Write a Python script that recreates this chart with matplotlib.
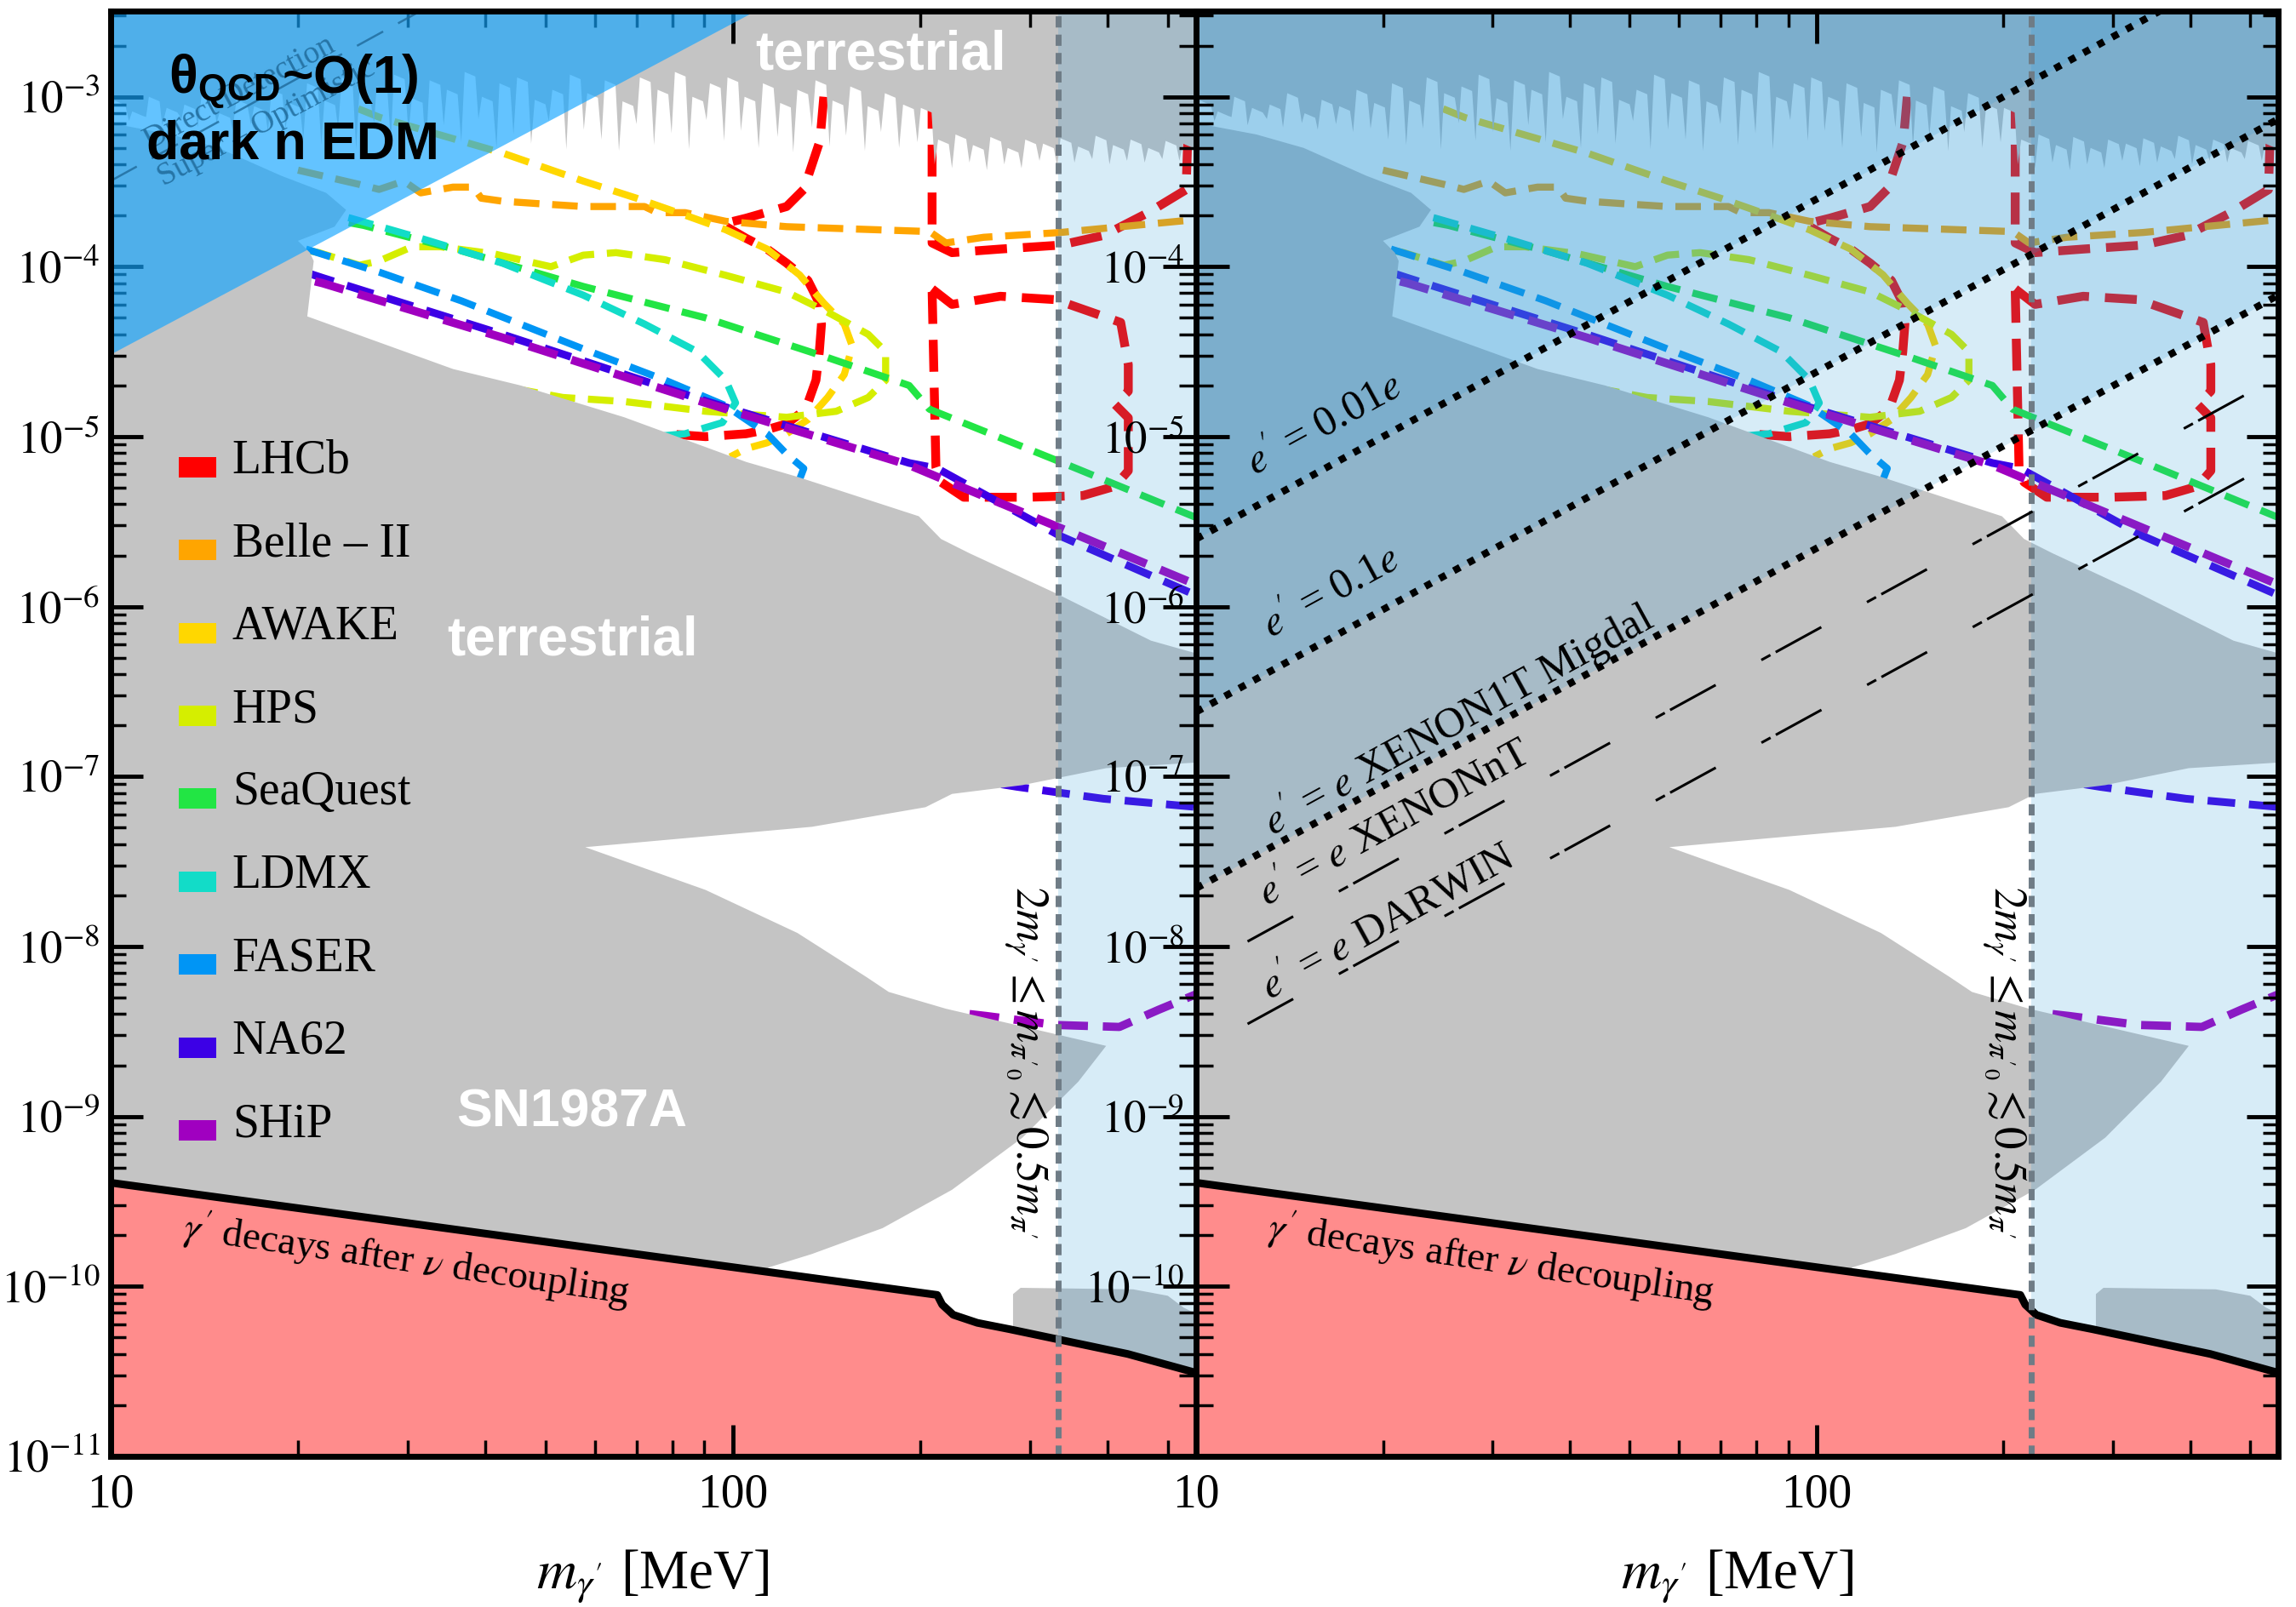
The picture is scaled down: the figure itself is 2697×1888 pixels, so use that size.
import numpy as np
import matplotlib
matplotlib.use("Agg")
import matplotlib.pyplot as plt
from matplotlib.patches import Rectangle
from matplotlib.ticker import FixedLocator, NullFormatter, FuncFormatter

plt.rcParams['font.family'] = 'serif'
plt.rcParams['font.serif'] = ['Liberation Serif', 'DejaVu Serif']
plt.rcParams['mathtext.fontset'] = 'stix'
plt.rcParams['mathtext.bf'] = 'Liberation Sans:bold'
plt.rcParams['mathtext.rm'] = 'Liberation Sans'
plt.rcParams['mathtext.it'] = 'Liberation Sans:italic'

M_MIN, M_MAX = 10, 555
E_MIN, E_MAX = 1e-11, 3.2e-3

# ---------------- data (m in MeV, eps) ----------------
# noisy lower edge of the upper "terrestrial" exclusion:
# narrow gray drips (tips) between wider open gaps (tops)
tip_m = [10, 10.7, 11.4, 12.1, 13.0, 13.8, 14.8, 15.7, 16.8, 17.9, 19.1, 20.4, 21.8, 23.2, 24.8,
         26.5, 28.2, 30.1, 32.1, 34.3, 36.6, 39.0, 41.7, 44.4, 47.4, 50.6, 54.0, 57.6, 61.5,
         65.6, 70.0, 74.7, 79.7, 85.0, 90.7, 96.8, 103, 110, 118, 125, 134, 143, 152, 163, 173,
         185, 198, 211, 225, 240, 256, 273, 291, 311, 332, 354, 378, 403, 430, 459, 490, 522, 557]
tip_e = [8.0e-4, 7.2e-4, 7.6e-4, 6.8e-4, 7.4e-4, 6.6e-4, 7.0e-4, 6.4e-4, 6.9e-4, 6.2e-4, 6.5e-4,
         5.6e-4, 5.2e-4, 6.5e-4, 4.9e-4, 7.0e-4, 5.5e-4, 6.2e-4, 4.8e-4, 6.8e-4, 5.4e-4, 7.4e-4,
         5.0e-4, 6.0e-4, 5.3e-4, 7.2e-4, 4.9e-4, 6.4e-4, 5.6e-4, 4.8e-4, 6.9e-4, 5.2e-4, 6.1e-4,
         4.9e-4, 7.3e-4, 5.5e-4, 6.3e-4, 5.0e-4, 5.8e-4, 4.7e-4, 6.6e-4, 5.1e-4, 5.9e-4, 4.8e-4,
         6.2e-4, 5.0e-4, 5.4e-4, 4.0e-4, 3.8e-4, 4.1e-4, 3.7e-4, 4.0e-4, 3.8e-4, 4.2e-4, 3.9e-4,
         4.1e-4, 4.3e-4, 4.0e-4, 4.2e-4, 4.1e-4, 4.3e-4, 4.2e-4, 4.4e-4]
gap_m = [10.35, 11.05, 11.75, 12.55, 13.4, 14.3, 15.25, 16.25, 17.35, 18.5, 19.75, 21.1, 22.5,
         24.0, 25.6, 27.3, 29.1, 31.1, 33.2, 35.4, 37.8, 40.3, 43.0, 45.9, 49.0, 52.3, 55.8, 59.5,
         63.5, 67.8, 72.3, 77.2, 82.3, 87.8, 93.7, 100, 106.5, 114, 121.5, 129.5, 138.5, 147.5,
         157.5, 168, 179, 191.5, 204.5, 218, 232.5, 248, 264.5, 282, 301, 321.5, 343, 366, 390.5,
         416.5, 444.5, 474.5, 506, 539.5]
gap_e = [9.5e-4, 8.2e-4, 1.0e-3, 8.6e-4, 9.0e-4, 1.05e-3, 8.0e-4, 9.6e-4, 8.8e-4, 1.1e-3, 9.2e-4,
         1.2e-3, 9.5e-4, 1.3e-3, 1.05e-3, 1.15e-3, 1.35e-3, 9.8e-4, 1.25e-3, 1.1e-3, 1.4e-3, 1.0e-3,
         1.2e-3, 1.3e-3, 9.6e-4, 1.1e-3, 1.35e-3, 1.05e-3, 1.25e-3, 9.4e-4, 1.3e-3, 1.1e-3, 1.4e-3,
         1.0e-3, 1.2e-3, 1.3e-3, 1.0e-3, 1.2e-3, 9.2e-4, 1.1e-3, 1.25e-3, 9.5e-4, 1.15e-3, 8.8e-4,
         1.05e-3, 9.0e-4, 8.6e-4, 5.6e-4, 6.0e-4, 5.2e-4, 5.8e-4, 5.0e-4, 5.6e-4, 5.3e-4, 5.7e-4,
         5.1e-4, 5.9e-4, 5.2e-4, 5.6e-4, 5.0e-4, 5.5e-4, 5.3e-4]

# lower "terrestrial" + SN1987A exclusion (outline, white wedge cut in)
low_m = [9, 10, 12.5, 14.9, 18.8, 22.2, 23.9, 22.9, 20.0, 20.9, 21.2, 20.7, 35.5, 45.6, 66.9, 105,
         127, 199, 216, 240, 330, 470, 600, 600, 398, 292, 225, 204, 134, 57.9, 90.4, 127, 164,
         178, 220, 398, 359, 292, 225, 174, 134, 114, 114, 9]
low_e = [7.0e-4, 7.0e-4, 6.0e-4, 5.0e-4, 3.43e-4, 2.72e-4, 2.16e-4, 1.72e-4, 1.42e-4, 1.21e-4,
         1.08e-4, 5.1e-5, 2.5e-5, 2.0e-5, 1.3e-5, 7.1e-6, 5.8e-6, 3.4e-6, 2.5e-6, 2.06e-6, 1.2e-6,
         6.3e-7, 4.9e-7, 1.23e-7, 1.12e-7, 8.9e-8, 7.9e-8, 6.6e-8, 5.06e-8, 3.84e-8, 2.15e-8,
         1.2e-8, 6.6e-9, 5.4e-9, 4.3e-9, 2.6e-9, 1.6e-9, 7.5e-10, 3.7e-10, 2.2e-10, 1.55e-10,
         1.29e-10, 1e-12, 1e-12]

# small exclusion box at the bottom right
box_m = [282, 282, 290, 440, 500, 530, 600, 600]
box_e = [1e-12, 9.0e-11, 9.8e-11, 9.6e-11, 8.8e-11, 7.5e-11, 6.0e-11, 1e-12]

# gamma' decays after nu decoupling
bbn_m = [10, 213, 217, 226, 247, 278, 431, 555]
bbn_e = [4.07e-10, 8.9e-11, 7.8e-11, 6.8e-11, 6.1e-11, 5.6e-11, 4.0e-11, 3.1e-11]

# theta_QCD ~ O(1) dark n EDM triangle
tri_m = [10, 109, 10]
tri_e = [3.04e-5, 3.2e-3, 3.2e-3]
dd_m = [10, 31]
dd_e = [3.2e-4, 3.1e-3]

# projected sensitivities
lhcb1_m = [140, 138, 130, 122, 105, 96, 105, 113.5, 122, 132, 137.7, 138.8, 137.7, 136, 132, 128,
           122, 113.5, 105, 90.4, 77.8]
lhcb1_e = [1.0e-3, 5.5e-4, 2.85e-4, 2.26e-4, 1.93e-4, 1.78e-4, 1.47e-4, 1.27e-4, 1.05e-4, 8.3e-5,
           6.1e-5, 4.6e-5, 3.16e-5, 2.15e-5, 1.58e-5, 1.36e-5, 1.19e-5, 1.1e-5, 1.04e-5, 1.0e-5, 1.04e-5]
lhcb2_m = [209, 209, 225, 269, 336, 395, 465, 535, 540]
lhcb2_e = [1.0e-3, 1.38e-4, 1.21e-4, 1.27e-4, 1.34e-4, 1.53e-4, 2.08e-4, 2.84e-4, 8.0e-4]
lhcb3_m = [209, 225, 269, 330, 420, 432, 432, 411, 432, 432, 411, 365, 299, 235, 216, 212, 209]
lhcb3_e = [7.4e-5, 6.0e-5, 6.7e-5, 6.4e-5, 4.7e-5, 2.65e-5, 1.85e-5, 1.55e-5, 1.29e-5, 6.3e-6,
           5.1e-6, 4.5e-6, 4.4e-6, 4.4e-6, 5.4e-6, 6.6e-6, 7.4e-5]
belle_m = [20, 25.1, 27, 29.6, 31.5, 35.5, 38.3, 39.4, 42.6, 49.5, 57.5, 72.1, 75.6, 83.8, 97.4, 122,
           207, 220, 253, 336, 560]
belle_e = [3.7e-4, 3.05e-4, 2.85e-4, 3.19e-4, 2.72e-4, 2.94e-4, 2.94e-4, 2.53e-4, 2.43e-4, 2.34e-4,
           2.26e-4, 2.26e-4, 2.08e-4, 2.08e-4, 1.85e-4, 1.72e-4, 1.61e-4, 1.38e-4, 1.49e-4, 1.59e-4,
           1.9e-4]
awake_m = [25, 27.1, 42.6, 57.5, 70, 83.8, 97.4, 113.5, 128, 140, 151, 155.6, 151, 142, 132, 122,
           113.5, 105, 99]
awake_e = [8.5e-4, 7.55e-4, 4.67e-4, 3.19e-4, 2.53e-4, 2.01e-4, 1.65e-4, 1.27e-4, 8.95e-5, 6.1e-5,
           4.6e-5, 3.4e-5, 2.32e-5, 1.7e-5, 1.26e-5, 1.04e-5, 9.2e-6, 8.5e-6, 7.6e-6]
hps_m = [20.9, 21.6, 25.1, 27.0, 30.5, 33.9, 41.3, 51, 57.5, 64.9, 77.8, 97.4, 122, 142, 165, 176,
         176, 165, 146.6, 122, 90.4, 66.8, 53.3, 45.9, 40]
hps_e = [1.24e-4, 1.21e-4, 1.02e-4, 1.08e-4, 1.31e-4, 1.31e-4, 1.19e-4, 1.0e-4, 1.17e-4, 1.21e-4,
         1.1e-4, 8.9e-5, 7.1e-5, 5.4e-5, 4.0e-5, 3.16e-5, 2.15e-5, 1.7e-5, 1.41e-5, 1.3e-5, 1.41e-5,
         1.61e-5, 1.7e-5, 1.88e-5, 2.05e-5]
seaquest_m = [21, 25.5, 36.6, 57.5, 90.4, 142, 192, 207, 336, 560]
seaquest_e = [2.0e-4, 1.75e-4, 1.24e-4, 7.65e-5, 5.0e-5, 2.92e-5, 2.0e-5, 1.45e-5, 7.1e-6, 3.3e-6]
ldmx_m = [21, 24.3, 31.5, 42.6, 57.5, 72.1, 87.7, 97.4, 101, 96.2, 83.8, 74.5]
ldmx_e = [2.2e-4, 1.93e-4, 1.47e-4, 1.05e-4, 6.8e-5, 4.6e-5, 3.16e-5, 2.15e-5, 1.58e-5, 1.21e-5,
          1.04e-5, 1.0e-5]
faser_m = [20.6, 27.0, 36.6, 57.5, 77.8, 97.4, 113.5, 122, 130, 128]
faser_e = [1.27e-4, 9.3e-5, 6.3e-5, 3.28e-5, 2.15e-5, 1.52e-5, 1.04e-5, 7.9e-6, 6.5e-6, 5.6e-6]
na62_m = [20.7, 21.9, 42.6, 90.4, 192, 213, 336, 560]
na62_e = [9.2e-5, 8.6e-5, 4.0e-5, 1.62e-5, 7.0e-6, 6.5e-6, 2.6e-6, 1.15e-6]
na62b_m = [270, 286, 394, 560]
na62b_e = [9.0e-8, 8.7e-8, 7.4e-8, 6.6e-8]
ship_m = [21.3, 21.9, 42.6, 90.4, 192, 213, 336, 560]
ship_e = [8.2e-5, 8.0e-5, 3.83e-5, 1.58e-5, 6.8e-6, 5.8e-6, 2.9e-6, 1.33e-6]
shipb_m = [240, 255, 331, 418, 484, 560]
shipb_e = [4.0e-9, 3.9e-9, 3.45e-9, 3.36e-9, 4.25e-9, 5.3e-9]

legend_names = ['LHCb', 'Belle – II', 'AWAKE', 'HPS', 'SeaQuest', 'LDMX', 'FASER', 'NA62', 'SHiP']
legend_colors = ['#ff0000', '#ffa500', '#ffd700', '#d5ee00', '#22e544', '#12dcc8', '#0095f5',
                 '#3c00e6', '#a000c0']

# direct detection lines (two points each, eps ~ m^2)
dl001_m, dl001_e = [10, 555], [2.5e-6, 7.7e-3]
dl01_m, dl01_e = [10, 555], [2.4e-7, 7.4e-4]
xe1t_m, xe1t_e = [10, 555], [2.2e-8, 6.8e-5]
xent_m, xent_e = [12.1, 555], [1.07e-8, 2.25e-5]
darwin_m, darwin_e = [12.1, 555], [3.5e-9, 7.3e-6]

band_left = 333
band_right = 222

GRAY = '#c4c4c4'
LAYER = '#2696d8'
VGRAY = '#6f7c86'

curves = [
    (lhcb1_m, lhcb1_e, legend_colors[0], 7.5),
    (lhcb2_m, lhcb2_e, legend_colors[0], 7.5),
    (lhcb3_m, lhcb3_e, legend_colors[0], 7.5),
    (belle_m, belle_e, legend_colors[1], 6),
    (awake_m, awake_e, legend_colors[2], 6),
    (hps_m, hps_e, legend_colors[3], 6),
    (seaquest_m, seaquest_e, legend_colors[4], 6),
    (ldmx_m, ldmx_e, legend_colors[5], 6),
    (faser_m, faser_e, legend_colors[6], 6),
    (na62_m, na62_e, legend_colors[7], 6.5),
    (na62b_m, na62b_e, legend_colors[7], 6.5),
    (ship_m, ship_e, legend_colors[8], 7),
    (shipb_m, shipb_e, legend_colors[8], 7),
]

# outline of the upper exclusion: sharp gray tips, wide open gaps
edge_m, edge_e = [9], [tip_e[0]]
for i in range(len(tip_m)):
    edge_m.append(tip_m[i])
    edge_e.append(tip_e[i])
    if i < len(gap_m):
        edge_m += [gap_m[i] / 1.02, gap_m[i] * 1.02]
        edge_e += [gap_e[i], gap_e[i] * 0.94]
edge_m += [600, 600, 9]
edge_e += [tip_e[-1], 1.0, 1.0]


def power_line(pm, pe, m):
    k = np.log10(pe[1] / pe[0]) / np.log10(pm[1] / pm[0])
    return pe[0] * (np.asarray(m, dtype=float) / pm[0]) ** k


def style_axes(ax):
    ax.set_xscale('log')
    ax.set_yscale('log')
    ax.set_xlim(M_MIN, M_MAX)
    ax.set_ylim(E_MIN, E_MAX)
    ax.xaxis.set_major_locator(FixedLocator([10, 100]))
    ax.xaxis.set_minor_locator(FixedLocator([20, 30, 40, 50, 60, 70, 80, 90, 200, 300, 400, 500]))
    ax.xaxis.set_major_formatter(FuncFormatter(lambda v, p: "%d" % round(v)))
    ax.xaxis.set_minor_formatter(NullFormatter())
    ax.yaxis.set_major_locator(FixedLocator([10.0 ** k for k in range(-11, -2)]))
    ax.yaxis.set_minor_locator(FixedLocator([j * 10.0 ** k for k in range(-12, -2) for j in range(2, 10)]))
    ax.yaxis.set_minor_formatter(NullFormatter())
    for sp in ax.spines.values():
        sp.set_linewidth(5)
        sp.set_zorder(10)
    ax.xaxis.set_zorder(6)
    ax.yaxis.set_zorder(6)
    ax.tick_params(axis='x', which='major', direction='in', length=27, width=3.5,
                   labelsize=40, top=True, pad=14)
    ax.tick_params(axis='x', which='minor', direction='in', length=14, width=2.5, top=True)


def draw_base(ax, band_from, vtext_m):
    for m, e, c, lw in curves:
        ax.plot(m, e, color=c, lw=lw, ls=(0, (3.6, 1.8)), zorder=2)
    ax.fill(edge_m, edge_e, color=GRAY, lw=0, zorder=3)
    ax.fill(low_m, low_e, color=GRAY, lw=0, zorder=3)
    ax.fill(box_m, box_e, color=GRAY, lw=0, zorder=3)
    ax.axvspan(band_from, 600, color=LAYER, alpha=0.18, lw=0, zorder=4)
    ax.fill_between(bbn_m, 1e-12, bbn_e, color='#ff8c8c', lw=0, zorder=5)
    ax.plot(bbn_m, bbn_e, color='k', lw=6.5, zorder=5.5, solid_capstyle='butt')
    ax.axvline(band_from, color=VGRAY, lw=5, ls=(0, (1.9, 1.2)), zorder=8)
    ax.text(vtext_m, 2.09e-9, r"$2m_{\gamma'} \leq m_{\pi'_0} \lesssim 0.5m_{\pi'}$",
            rotation=-90, fontsize=38, ha='center', va='center', zorder=9)
    ax.text(29.9, 1.44e-10, r"$\gamma'$ decays after $\nu$ decoupling", rotation=-8.3,
            fontsize=34, ha='center', va='center', rotation_mode='anchor', zorder=9)


fig = plt.figure(figsize=(26.97, 18.88), dpi=100)
axL = fig.add_axes([0.0482, 0.0938, 0.4727, 0.8994])
axR = fig.add_axes([0.5210, 0.0938, 0.4713, 0.8994])

# ---------------- left panel ----------------
style_axes(axL)
axL.yaxis.set_major_formatter(FuncFormatter(lambda v, p: r"$10^{%d}$" % round(np.log10(v))))
axL.tick_params(axis='y', which='major', direction='in', length=27, width=3.5, labelsize=38,
                right=False, pad=9)
axL.tick_params(axis='y', which='minor', direction='in', length=13, width=2.5, right=False)
draw_base(axL, band_left, 296)

axL.fill(tri_m, tri_e, color='#13a5ff', alpha=0.66, lw=0, zorder=7)
axL.plot(dd_m, dd_e, color='#1f6a9a', lw=1.8, ls=(0, (14, 8)), alpha=0.8, zorder=7.5)
axL.text(16.1, 1.05e-3, 'Direct Detection', rotation=28, fontsize=27, color='#1f6a9a',
         alpha=0.85, ha='center', va='center', zorder=7.5)
axL.text(17.8, 7.0e-4, 'Super – Optimistic', rotation=28, fontsize=27, color='#1f6a9a',
         alpha=0.85, ha='center', va='center', zorder=7.5)
axL.text(19.7, 1.23e-3, r"θ$_{\mathbf{QCD}}$~O(1)", fontsize=45, fontweight='bold',
         family=['Liberation Sans', 'DejaVu Sans'], math_fontfamily='custom',
         ha='center', va='center', zorder=9)
axL.text(19.6, 5.2e-4, "dark n EDM", fontsize=45, fontweight='bold',
         family=['Liberation Sans', 'DejaVu Sans'], ha='center', va='center', zorder=9)

sans = ['Liberation Sans', 'DejaVu Sans']
axL.text(173, 1.76e-3, 'terrestrial', color='white', fontsize=46, fontweight='bold',
         family=sans, ha='center', va='center', zorder=9)
axL.text(55.2, 6.3e-7, 'terrestrial', color='white', fontsize=46, fontweight='bold',
         family=sans, ha='center', va='center', zorder=9)
axL.text(55.1, 1.05e-9, 'SN1987A', color='white', fontsize=45, fontweight='bold',
         family=sans, ha='center', va='center', zorder=9)

for i, (name, col) in enumerate(zip(legend_names, legend_colors)):
    base = (1711 - (556 + 97.4 * i)) / 1698.0
    axL.add_patch(Rectangle((0.063, base - 5 / 1698.0), 0.034, 24 / 1698.0, color=col,
                            transform=axL.transAxes, zorder=9, lw=0))
    axL.text(0.112, base, name, fontsize=40, ha='left', va='baseline',
             transform=axL.transAxes, zorder=9)

axL.text(0.50, -0.083, r"$m_{\gamma'}$ [MeV]", transform=axL.transAxes, ha='center',
         va='center', fontsize=47)

# ---------------- right panel ----------------
style_axes(axR)
hidden = {-3, -11}
axR.yaxis.set_major_formatter(FuncFormatter(
    lambda v, p: "" if round(np.log10(v)) in hidden else r"$10^{%d}$" % round(np.log10(v))))
axR.tick_params(axis='y', which='major', direction='inout', length=56, width=3.5,
                labelsize=38, left=True, right=False, pad=-18)
axR.tick_params(axis='y', which='minor', direction='inout', length=29, width=2.5,
                left=True, right=False)
draw_base(axR, band_right, 201)

mm = np.array([M_MIN, 600.0])
for pm, pe in [(xe1t_m, xe1t_e), (dl01_m, dl01_e), (dl001_m, dl001_e)]:
    axR.fill_between(mm, power_line(pm, pe, mm), 1.0, color=LAYER, alpha=0.18, lw=0, zorder=4)
    axR.plot(mm, power_line(pm, pe, mm), color='k', lw=6, ls=(0, (1, 1.3)), zorder=8)
for pm, pe in [(xent_m, xent_e), (darwin_m, darwin_e)]:
    xx = np.array([pm[0], 600.0])
    axR.plot(xx, power_line(pm, pe, xx), color='k', lw=2.2, ls=(0, (20, 20, 4, 2.3)), zorder=8)

for txt, m, e in [(r"$e'$ = 0.01$e$", 16.1, 1.17e-5), (r"$e'$ = 0.1$e$", 16.5, 1.2e-6),
                  (r"$e'$ = $e$ XENON1T Migdal", 26.4, 2.14e-7),
                  (r"$e'$ = $e$ XENONnT", 20.9, 5.25e-8),
                  (r"$e'$ = $e$ DARWIN", 20.4, 1.37e-8)]:
    axR.text(m, e, txt, rotation=28.7, fontsize=36, ha='center', va='center',
             rotation_mode='anchor', zorder=9)

axR.text(0.50, -0.083, r"$m_{\gamma'}$ [MeV]", transform=axR.transAxes, ha='center',
         va='center', fontsize=47)

tw = axR.twinx()
tw.set_yscale('log')
tw.set_ylim(E_MIN, E_MAX)
tw.yaxis.set_major_locator(FixedLocator([10.0 ** k for k in range(-11, -2)]))
tw.yaxis.set_minor_locator(FixedLocator([j * 10.0 ** k for k in range(-12, -2) for j in range(2, 10)]))
tw.yaxis.set_major_formatter(NullFormatter())
tw.yaxis.set_minor_formatter(NullFormatter())
tw.tick_params(axis='y', which='major', direction='in', length=27, width=3.5)
tw.tick_params(axis='y', which='minor', direction='in', length=13, width=2.5)
for sp in tw.spines.values():
    sp.set_visible(False)

fig.savefig('out.png', dpi=100)
